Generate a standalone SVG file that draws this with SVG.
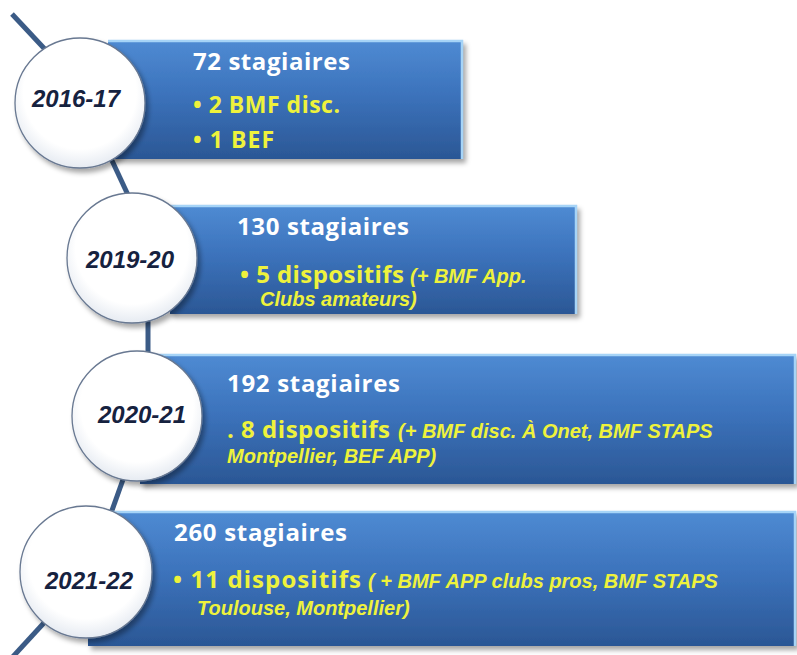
<svg xmlns="http://www.w3.org/2000/svg" width="797" height="655" viewBox="0 0 797 655">
<defs>
  <linearGradient id="boxg" x1="0" y1="0" x2="0" y2="1">
    <stop offset="0" stop-color="#4f8bd3"/>
    <stop offset="0.45" stop-color="#3c73bc"/>
    <stop offset="1" stop-color="#2b5795"/>
  </linearGradient>
  <radialGradient id="circg" cx="0.5" cy="0.42" r="0.62">
    <stop offset="0" stop-color="#ffffff"/>
    <stop offset="0.7" stop-color="#ffffff"/>
    <stop offset="1" stop-color="#dfe5ee"/>
  </radialGradient>
  <filter id="shadow" x="-10%" y="-10%" width="125%" height="135%">
    <feDropShadow dx="3" dy="4" stdDeviation="2.5" flood-color="#000" flood-opacity="0.35"/>
  </filter>
</defs>
<style>
  .box { fill: url(#boxg); filter: url(#shadow); }
  .hl { stroke: #a6d4f7; stroke-width: 2.5; fill: none; }
  .circ { fill: url(#circg); stroke: #687891; stroke-width: 1.3; filter: url(#shadow); }
  .year { font-family: "Liberation Sans", Arial, sans-serif; font-weight: bold; font-style: italic; font-size: 24px; fill: #16223f; text-anchor: middle; }
  .title { font-family: "Open Sans", "Liberation Sans", sans-serif; font-weight: 700; font-size: 24px; fill: #ffffff; }
  .item { font-family: "Open Sans", "Liberation Sans", sans-serif; font-weight: 700; font-size: 23px; fill: #eef23c; }
  .big { font-family: "Open Sans", "Liberation Sans", sans-serif; font-weight: 700; font-size: 24px; fill: #eef23c; }
  .note { font-family: "Liberation Sans", Arial, sans-serif; font-weight: bold; font-style: italic; font-size: 20px; fill: #eef23c; }
  .conn { stroke: #3b5b86; stroke-width: 5; fill: none; stroke-linecap: butt; }
</style>

<g id="connectors">
  <path class="conn" d="M 12 14 L 55 60"/>
  <path class="conn" d="M 108 152 L 135 210"/>
  <path class="conn" d="M 148 300 L 148 370"/>
  <path class="conn" d="M 130 460 L 105 530"/>
  <path class="conn" d="M 65 600 L 8 662"/>
</g>

<g id="box-2016">
  <rect class="box" x="108" y="40" width="355" height="119"/>
  <path class="hl" d="M 108 41 H 462 V 159"/>
  <text class="title" x="193" y="70" textLength="157">72 stagiaires</text>
  <text class="item" x="193" y="113" textLength="147">• 2 BMF disc.</text>
  <text class="item" x="193" y="148" textLength="81">• 1 BEF</text>
</g>

<g id="box-2019">
  <rect class="box" x="170" y="205" width="407" height="109"/>
  <path class="hl" d="M 170 206 H 576 V 314"/>
  <text class="title" x="237" y="235" textLength="172">130 stagiaires</text>
  <text class="big" x="240" y="283" textLength="164">• 5 dispositifs</text>
  <text class="note" x="410" y="283">(+ BMF App.</text>
  <text class="note" x="260" y="306">Clubs amateurs)</text>
</g>

<g id="box-2020">
  <rect class="box" x="140" y="354" width="656" height="130"/>
  <path class="hl" d="M 140 355 H 795 V 484"/>
  <text class="title" x="227" y="392" textLength="173">192 stagiaires</text>
  <text class="big" x="227" y="438" textLength="163">. 8 dispositifs</text>
  <text class="note" x="398" y="438">(+ BMF disc. À Onet, BMF STAPS</text>
  <text class="note" x="227" y="463">Montpellier, BEF APP)</text>
</g>

<g id="box-2021">
  <rect class="box" x="88" y="511" width="708" height="135"/>
  <path class="hl" d="M 88 512 H 795 V 646"/>
  <text class="title" x="174" y="541" textLength="173">260 stagiaires</text>
  <text class="big" x="173" y="588" textLength="188">• 11 dispositifs</text>
  <text class="note" x="368" y="588">( + BMF APP clubs pros, BMF STAPS</text>
  <text class="note" x="197" y="615">Toulouse, Montpellier)</text>
</g>

<g id="year-2016-17">
  <circle class="circ" cx="80" cy="103" r="65"/>
  <text class="year" x="76" y="107">2016-17</text>
</g>
<g id="year-2019-20">
  <circle class="circ" cx="132" cy="258" r="65"/>
  <text class="year" x="130" y="268">2019-20</text>
</g>
<g id="year-2020-21">
  <circle class="circ" cx="137" cy="416" r="65"/>
  <text class="year" x="142" y="423">2020-21</text>
</g>
<g id="year-2021-22">
  <circle class="circ" cx="86" cy="572" r="66"/>
  <text class="year" x="89" y="589">2021-22</text>
</g>
</svg>
